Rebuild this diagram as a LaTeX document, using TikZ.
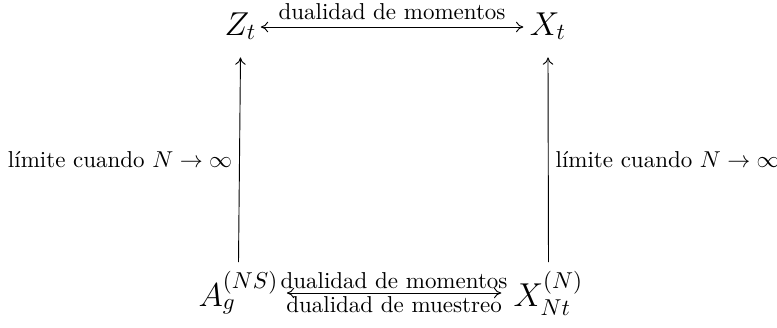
\documentclass[tikz,border=0pt]{standalone}
\usepackage{amsmath}
\usetikzlibrary{calc,arrows.meta}
\begin{document}
\begin{tikzpicture}[x=0.4348pt,y=-0.4348pt,
  obj/.style={inner sep=0pt,anchor=base,font=\Large},
  arr/.style={line width=0.4pt},
  tip/.tip={Computer Modern Rightarrow[length=3.2pt,width=4.6pt]}]
\useasboundingbox (0,0) rectangle (777,327);
\node[obj] (Z) at (240.5,35) {$Z_t$};
\node[obj] (X) at (548,35) {$X_t$};
\node[obj] (A) at (238.5,306) {$A_g^{(NS)}$};
\node[obj] (XN) at (548.5,306) {$X_{Nt}^{(N)}$};
\draw[arr,tip-tip] ($(Z.base east)+(4,-8)$) -- node[above,inner sep=3pt] {dualidad de momentos} ($(X.base west)+(-6,-8)$);
\draw[arr,tip-tip] ($(A.base east)+(8,-13)$) -- node[above,inner sep=1.5pt] {dualidad de momentos} node[below,inner sep=1.5pt] {dualidad de muestreo} ($(XN.base west)+(-12,-13)$);
\draw[arr,-tip] ($(A.north)+(0,-9)$) -- node[left,inner sep=3pt] {límite cuando $N\to\infty$} ($(Z.south)+(0,17)$);
\draw[arr,-tip] ($(XN.north)+(0,-9)$) -- node[right,inner sep=3pt] {límite cuando $N\to\infty$} ($(X.south)+(0,17)$);
\end{tikzpicture}
\end{document}
